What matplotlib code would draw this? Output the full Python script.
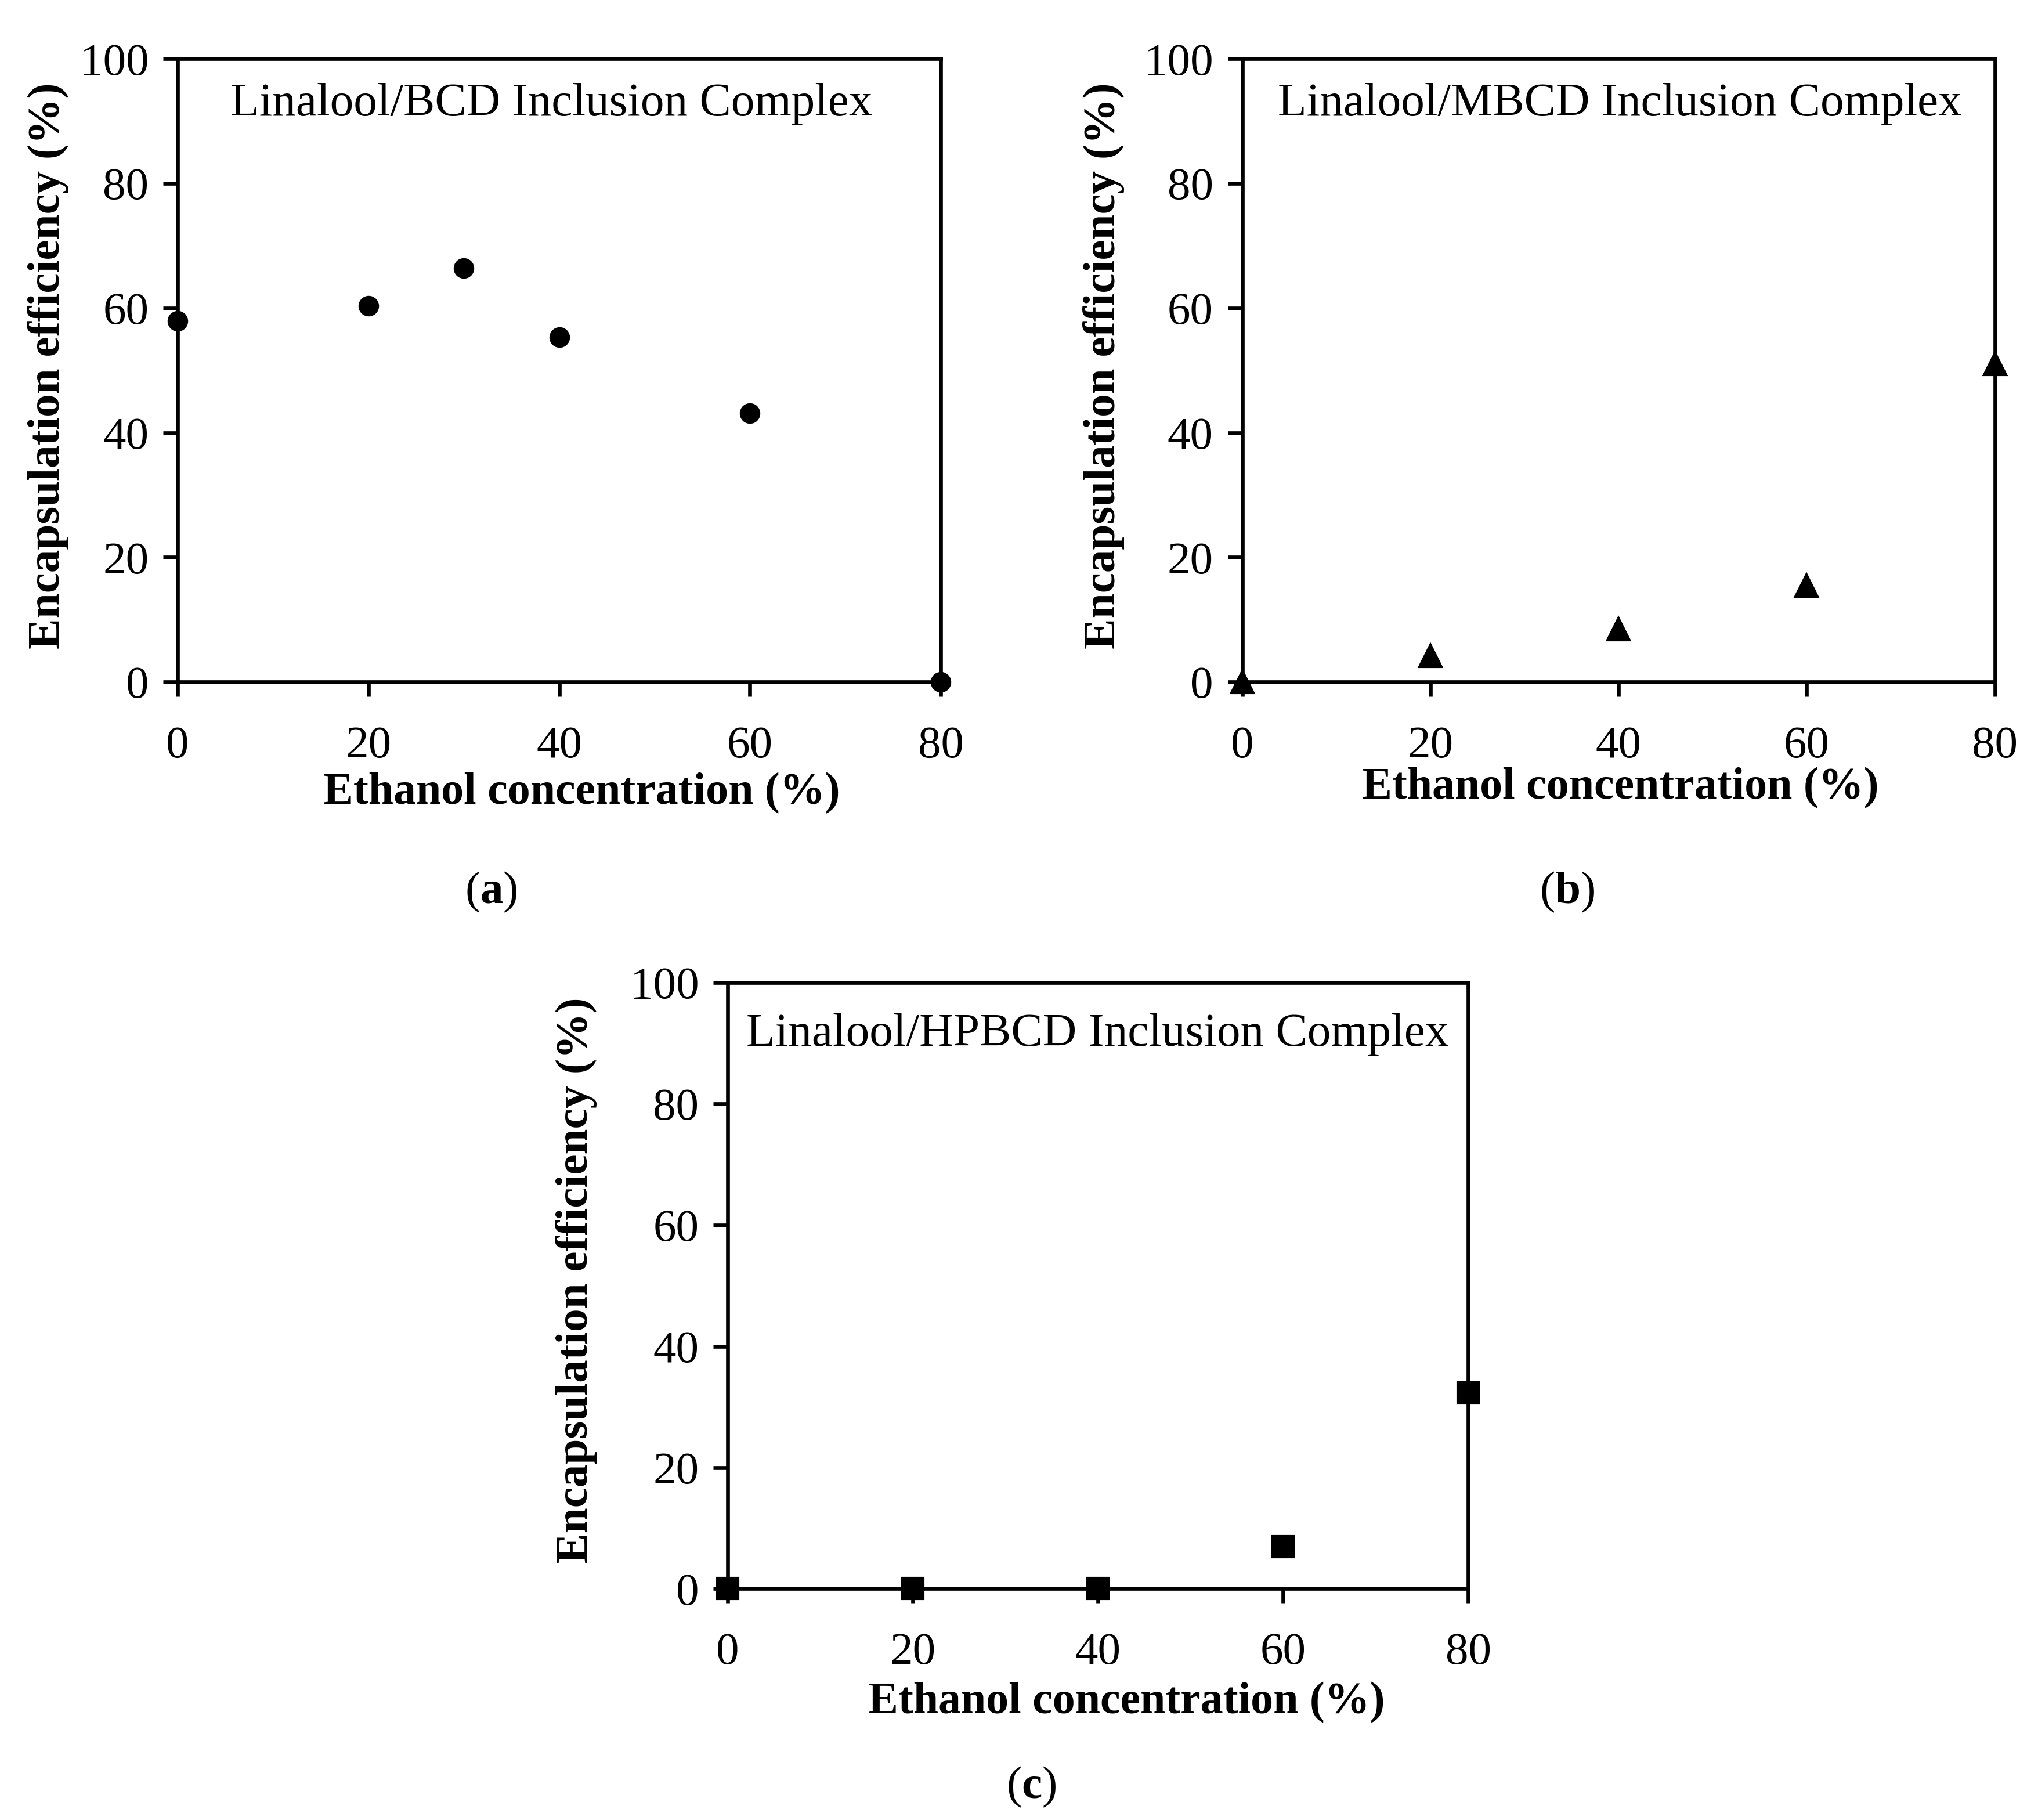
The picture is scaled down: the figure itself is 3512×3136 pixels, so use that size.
import matplotlib
matplotlib.use("Agg")
import matplotlib.pyplot as plt

# Data
ethanol_a = [0, 20, 30, 40, 60, 80]
bcd_eff = [57.9, 60.4, 66.4, 55.3, 43.1, 0.0]

ethanol_b = [0, 20, 40, 60, 80]
mbcd_eff = [0.0, 4.2, 8.5, 15.5, 51.0]

ethanol_c = [0, 20, 40, 60, 80]
hpbcd_eff = [0.0, 0.0, 0.0, 6.9, 32.3]

x_ticks = [0, 20, 40, 60, 80]
y_ticks = [0, 20, 40, 60, 80, 100]

plt.rcParams["font.family"] = ["Liberation Serif", "DejaVu Serif"]
plt.rcParams["mathtext.fontset"] = "custom"
plt.rcParams["mathtext.bf"] = "Liberation Serif:bold"
plt.rcParams["mathtext.rm"] = "Liberation Serif"

fig = plt.figure(figsize=(3512 / 300, 3136 / 300), dpi=300)

panels = [
    # rect, x, y, marker, size, title, title pos, xlabel pos, ylabel pos, tag, tag pos
    ([0.0872, 0.6253, 0.3744, 0.3424], ethanol_a, bcd_eff, "o", 7.5,
     "Linalool/BCD Inclusion Complex", (0.490, 0.927), (0.529, -0.178), (-0.170, 0.507),
     "a", (0.241, 0.5097)),
    ([0.6096, 0.6253, 0.3692, 0.3424], ethanol_b, mbcd_eff, "^", 9,
     "Linalool/MBCD Inclusion Complex", (0.502, 0.927), (0.502, -0.170), (-0.184, 0.507),
     "b", (0.769, 0.5097)),
    ([0.3571, 0.1271, 0.3634, 0.3330], ethanol_c, hpbcd_eff, "s", 8.5,
     "Linalool/HPBCD Inclusion Complex", (0.499, 0.914), (0.538, -0.1875), (-0.2046, 0.509),
     "c", (0.506, 0.018)),
]

for rect, xs, ys, mk, ms, title, tpos, xlpos, ylpos, tag, tagpos in panels:
    ax = fig.add_axes(rect)
    ax.plot(xs, ys, linestyle="none", marker=mk, markersize=ms, color="black", clip_on=False, zorder=5)
    ax.set_xlim(0, 80)
    ax.set_ylim(0, 100)
    ax.set_xticks(x_ticks)
    ax.set_yticks(y_ticks)
    for sp in ax.spines.values():
        sp.set_linewidth(1.6)
    ax.tick_params(axis="both", direction="out", length=6, width=1.6, labelsize=19)
    ax.tick_params(axis="x", pad=12)
    ax.tick_params(axis="y", pad=6)
    ax.text(tpos[0], tpos[1], title, transform=ax.transAxes, ha="center", va="center", fontsize=19.5)

    ax.set_xlabel("Ethanol concentration (%)", fontsize=18.7, fontweight="bold")
    ax.xaxis.label.set_va("center")
    ax.xaxis.set_label_coords(xlpos[0], xlpos[1])
    ax.set_ylabel("Encapsulation efficiency (%)", fontsize=19, fontweight="bold")
    ax.yaxis.label.set_va("center")
    ax.yaxis.set_label_coords(ylpos[0], ylpos[1])

    fig.text(tagpos[0], tagpos[1], "($\\mathbf{" + tag + "}$)", ha="center", va="center", fontsize=19)

fig.savefig("out.png", dpi=300, facecolor="white")
